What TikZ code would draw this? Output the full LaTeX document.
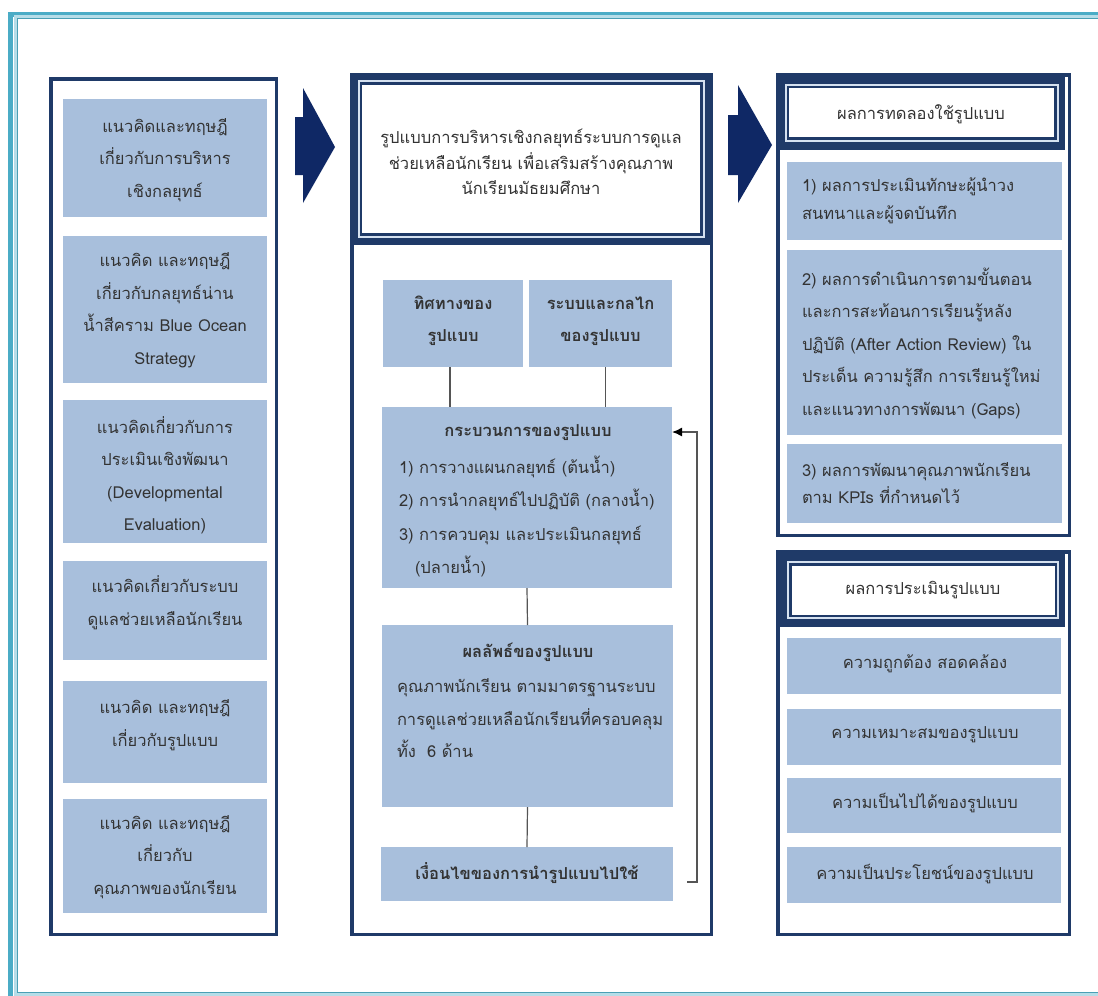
\documentclass[tikz,border=0pt]{standalone}
\usepackage{fontspec}
\newfontfamily\thai[Script=Thai]{Loma}
\usetikzlibrary{arrows.meta}
\definecolor{navy}{HTML}{1F3A68}
\definecolor{arrowblue}{HTML}{0F2865}
\definecolor{boxblue}{HTML}{A8BFDC}
\definecolor{gapblue}{HTML}{D5E1F0}
\definecolor{txtgray}{HTML}{333333}
\definecolor{tealband}{HTML}{4BACC6}
\definecolor{teallight}{HTML}{B6DDE8}
\definecolor{tealline}{HTML}{4A9FB5}
\definecolor{linkgray}{HTML}{555555}
\begin{document}
\begin{tikzpicture}[x=1pt,y=-1pt,
  cont/.style={draw=navy, line width=3.5pt, fill=white, inner sep=0pt, outer sep=0pt},
  hdr/.style={fill=white, draw=navy, double=gapblue, double distance=2pt, line width=2.5pt, inner sep=0pt, outer sep=0pt},
  fillbox/.style={fill=boxblue, inner sep=0pt, outer sep=0pt},
  tx/.style={inner sep=0pt, outer sep=0pt, text=txtgray, align=center, font=\thai\fontsize{16.5}{32.5}\selectfont},
  txb/.style={tx, font=\thai\bfseries\fontsize{16.5}{32.5}\selectfont},
  link/.style={draw=linkgray, line width=1.2pt},
  feedback/.style={draw=linkgray, line width=1.4pt, -{Latex[length=10pt,width=9pt,color=black]}},
  bigarrow/.style={fill=arrowblue}
]
\useasboundingbox (0,0) rectangle (1098,996);
\fill[white] (0,0) rectangle (1098,996);

% page frame: thick teal band, light band, thin inner line
\begin{scope}
  \clip (0,0) rectangle (1098,996);
  \draw[tealband, line width=5pt] (10.5,14) rectangle (1122,999.5);
  \draw[teallight, line width=3.5pt] (15.25,16.75) rectangle (1117,994.75);
  \draw[tealline, line width=1.2pt] (17.6,18.1) rectangle (1115,992.4);
\end{scope}

% containers
\node[cont, minimum width=225.5, minimum height=855.5] (lc) at (163.5,506.5) {};
\node[cont, minimum width=359.5, minimum height=859.5] (mc) at (531.5,504.5) {};
\node[cont, minimum width=291.5, minimum height=460.5] (rc) at (923.5,305) {};
\node[cont, minimum width=291.5, minimum height=382.5] (ec) at (923.5,743) {};

% header bands
\fill[navy] (350,73) rectangle (713,245);
\fill[navy] (776,73) rectangle (1065,150);
\fill[navy] (776,550) rectangle (1065,627);

% headers
\node[hdr, minimum width=345, minimum height=155.5] (mt) at (531,158.75) {};
\node[tx, font=\thai\fontsize{16.5}{25.5}\selectfont] (mtt) at (531,162) {รูปแบบการบริหารเชิงกลยุทธ์ระบบการดูแล\\ช่วยเหลือนักเรียน เพื่อเสริมสร้างคุณภาพ\\นักเรียนมัธยมศึกษา};
\node[hdr, minimum width=272, minimum height=56] (h1) at (921.5,112.5) {};
\node[tx] (h1t) at (921,114) {ผลการทดลองใช้รูปแบบ};
\node[hdr, minimum width=270, minimum height=56] (h2) at (923,590) {};
\node[tx] (h2t) at (923,590) {ผลการประเมินรูปแบบ};

% left column
\node[fillbox, minimum width=204, minimum height=118] (l1) at (165,158) {};
\node[fillbox, minimum width=204, minimum height=147] (l2) at (165,309.5) {};
\node[fillbox, minimum width=204, minimum height=143] (l3) at (165,471.5) {};
\node[fillbox, minimum width=204, minimum height=99] (l4) at (165,610.5) {};
\node[fillbox, minimum width=204, minimum height=102] (l5) at (165,732) {};
\node[fillbox, minimum width=204, minimum height=114] (l6) at (165,856) {};
\node[tx] (l1t) at (165,160) {แนวคิดและทฤษฎี\\เกี่ยวกับการบริหาร\\เชิงกลยุทธ์};
\node[tx] (l2t) at (165,310) {แนวคิด และทฤษฎี\\เกี่ยวกับกลยุทธ์น่าน\\น้ำสีคราม Blue Ocean\\Strategy};
\node[tx] (l3t) at (165,475) {แนวคิดเกี่ยวกับการ\\ประเมินเชิงพัฒนา\\(Developmental\\Evaluation)};
\node[tx] (l4t) at (165,602.5) {แนวคิดเกี่ยวกับระบบ\\ดูแลช่วยเหลือนักเรียน};
\node[tx] (l5t) at (165,725) {แนวคิด และทฤษฎี\\เกี่ยวกับรูปแบบ};
\node[tx] (l6t) at (165,857) {แนวคิด และทฤษฎี\\เกี่ยวกับ\\คุณภาพของนักเรียน};

% middle column
\node[fillbox, minimum width=140, minimum height=87] (ms1) at (453,323.5) {};
\node[fillbox, minimum width=143, minimum height=87] (ms2) at (600.5,323.5) {};
\node[txb] (ms1t) at (453,321) {ทิศทางของ\\รูปแบบ};
\node[txb] (ms2t) at (600.5,321) {ระบบและกลไก\\ของรูปแบบ};
\node[fillbox, minimum width=290, minimum height=181] (proc) at (527,497.5) {};
\node[txb] (proct) at (528,433) {กระบวนการของรูปแบบ};
\node[tx, align=left, anchor=west, font=\thai\fontsize{16.5}{33.5}\selectfont] (procl) at (399,516.5)
  {1) การวางแผนกลยุทธ์ (ต้นน้ำ)\\2) การนำกลยุทธ์ไปปฏิบัติ (กลางน้ำ)\\3) การควบคุม และประเมินกลยุทธ์\\\hspace*{16pt}(ปลายน้ำ)};
\node[fillbox, minimum width=291, minimum height=182] (res) at (527.5,716) {};
\node[txb] (rest) at (528,652) {ผลลัพธ์ของรูปแบบ};
\node[tx, align=left, anchor=west] (resl) at (397,718.5)
  {คุณภาพนักเรียน ตามมาตรฐานระบบ\\การดูแลช่วยเหลือนักเรียนที่ครอบคลุม\\ทั้ง\ \ 6 ด้าน};
\node[fillbox, minimum width=292, minimum height=54] (cond) at (527,874) {};
\node[txb] (condt) at (527,873) {เงื่อนไขของการนำรูปแบบไปใช้};

% links inside the middle column
\coordinate (k1) at ([xshift=-3pt]ms1.south);
\coordinate (k2) at ([xshift=5pt]ms2.south);
\draw[link] (k1) -- (k1 |- proc.north);
\draw[link] (k2) -- (k2 |- proc.north);
\draw[link] (proc.south) -- (res.north);
\draw[link] (res.south) -- (cond.north);
\coordinate (fbs) at (687,882);
\draw[feedback] (fbs) -| ([xshift=25pt,yshift=65.5pt]proc.east) -- ([yshift=65.5pt]proc.east);

% right column: trial results
\node[fillbox, minimum width=275, minimum height=78] (r1) at (924.5,201) {};
\node[fillbox, minimum width=275, minimum height=185] (r2) at (924.5,342.5) {};
\node[fillbox, minimum width=275, minimum height=79] (r3) at (924.5,483.5) {};
\node[tx, align=left, anchor=west, font=\thai\fontsize{16.5}{28}\selectfont] (r1t) at (802,200.5)
  {1) ผลการประเมินทักษะผู้นำวง\\สนทนาและผู้จดบันทึก};
\node[tx, align=left, anchor=west] (r2t) at (802,343)
  {2) ผลการดำเนินการตามขั้นตอน\\และการสะท้อนการเรียนรู้หลัง\\ปฏิบัติ (After Action Review) ใน\\ประเด็น ความรู้สึก การเรียนรู้ใหม่\\และแนวทางการพัฒนา (Gaps)};
\node[tx, align=left, anchor=west, font=\thai\fontsize{16.5}{27}\selectfont] (r3t) at (802,483.5)
  {3) ผลการพัฒนาคุณภาพนักเรียน\\ตาม KPIs ที่กำหนดไว้};

% right column: evaluation
\node[fillbox, minimum width=274, minimum height=56] (e1) at (924,666) {};
\node[fillbox, minimum width=274, minimum height=56] (e2) at (924,737) {};
\node[fillbox, minimum width=274, minimum height=55] (e3) at (924,805.5) {};
\node[fillbox, minimum width=274, minimum height=56] (e4) at (924,875) {};
\node[tx] (e1t) at (925,664) {ความถูกต้อง สอดคล้อง};
\node[tx] (e2t) at (925,735) {ความเหมาะสมของรูปแบบ};
\node[tx] (e3t) at (925,803) {ความเป็นไปได้ของรูปแบบ};
\node[tx] (e4t) at (925,874) {ความเป็นประโยชน์ของรูปแบบ};

% block arrows between the columns
\fill[bigarrow] (295,117) -- (303,117) -- (303,88) -- (335,147) -- (303,203) -- (303,175) -- (295,175) -- cycle;
\fill[bigarrow] (728,115) -- (738,115) -- (738,85) -- (772,145) -- (738,203) -- (738,175) -- (728,175) -- cycle;
\end{tikzpicture}
\end{document}
